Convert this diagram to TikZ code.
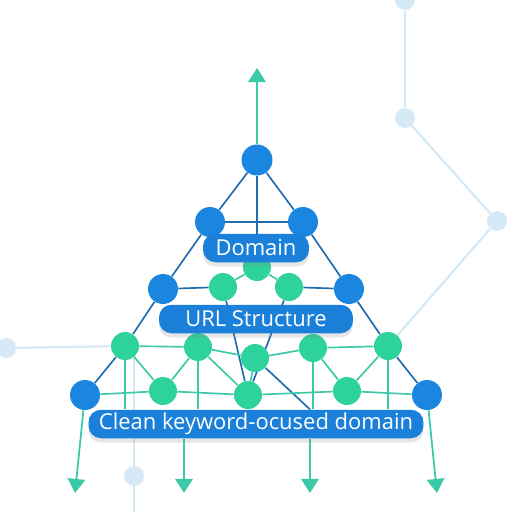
\documentclass[tikz,border=0pt]{standalone}
\usepackage{fontspec}
\setsansfont{Open Sans}
\usepackage{tikz}
\usetikzlibrary{arrows.meta, calc, backgrounds, shadows}
\definecolor{nodeblue}{HTML}{1A86E0}
\definecolor{nodegreen}{HTML}{2DD29C}
\definecolor{edgeblue}{HTML}{1F6CB0}
\definecolor{edgegreen}{HTML}{3CC9A8}
\definecolor{faint}{HTML}{D6E9F7}
\definecolor{labelblue}{HTML}{1A80D9}
\tikzset{
  hub/.style={
    circle, inner sep=0pt, minimum size=#1, fill=nodeblue
  },
  hub/.default=0.6cm,
  leaf/.style={
    circle, inner sep=0pt, minimum size=0.56cm, fill=nodegreen
  },
  ghost/.style={
    circle, inner sep=0pt, minimum size=0.4cm, fill=faint
  },
  tag/.style={
    rectangle, rounded corners=0.25cm, minimum width=#1, minimum height=0.57cm,
    inner sep=0pt, fill=labelblue, text=white, font=\sffamily\fontsize{12.5}{14}\selectfont,
    drop shadow={shadow xshift=0pt, shadow yshift=-2.5pt, opacity=0.2}
  },
  darkline/.style={edgeblue, line width=0.95pt},
  greenline/.style={edgegreen, line width=0.95pt},
  faintline/.style={faint, line width=1.3pt},
  arr/.style={-{Triangle[width=10pt,length=8pt]}, edgegreen, line width=1pt}
}

\begin{document}
\begin{tikzpicture}[x=0.02cm, y=-0.02cm]
  \useasboundingbox (0,0) rectangle (512,512);

  % Faint background network
  \node[ghost] (f1) at (405,0) {};
  \node[ghost] (f2) at (405,118) {};
  \node[ghost] (f3) at (497,221) {};
  \node[ghost] (f4) at (6,348) {};
  \node[ghost] (f5) at (134,476) {};
  \coordinate (f6) at (134,350);
  \coordinate (f7) at (134,512);

  % Top of the pyramid
  \node[hub=0.62cm] (t) at (257,160) {};
  \node[hub] (l2a) at (210,222) {};
  \node[hub] (l2b) at (303,222) {};
  \node[leaf] (gd) at (257,267) {};

  % Third row
  \node[hub] (b3a) at (163,289) {};
  \node[leaf] (g3a) at (223,287) {};
  \node[leaf] (g3b) at (289,287) {};
  \node[hub] (b3b) at (349,289) {};

  % Fourth row
  \node[leaf] (g4a) at (125,346) {};
  \node[leaf] (g4b) at (198,347) {};
  \node[leaf] (g4c) at (255,358) {};
  \node[leaf] (g4d) at (313,348) {};
  \node[leaf] (g4e) at (388,346) {};

  % Bottom row
  \node[hub] (b5a) at (85,395) {};
  \node[leaf] (g5a) at (163,391) {};
  \node[leaf] (g5b) at (248,395) {};
  \node[leaf] (g5c) at (347,391) {};
  \node[hub] (b5b) at (427,395) {};

  % Labels
  \node[tag=2.12cm] (domain) at (256,248) {Domain};
  \node[tag=3.88cm] (url) at (256,319) {URL Structure};
  \node[tag=6.7cm] (clean) at (256,424) {Clean keyword-ocused domain};

  % Arrow tips
  \coordinate (up) at (257,68);
  \coordinate (d1) at (75,493);
  \coordinate (d2) at (184,493);
  \coordinate (d3) at (310,493);
  \coordinate (d4) at (437,493);

  \begin{scope}[on background layer]
    \draw[faintline] (f1) -- (f2) -- (f3) -- (g4e);
    \draw[faintline] (f4) -- (g4a);
    \draw[faintline] (f6) -- (f5) -- (f7);

    \draw[darkline] (t) -- (l2a);
    \draw[darkline] (t) -- (l2b);
    \draw[darkline] (t) -- (gd);
    \draw[darkline] (l2a) -- (l2b);
    \draw[darkline] (l2a) -- (b3a);
    \draw[darkline] (l2b) -- (b3b);
    \draw[darkline] (b3a) -- (g3a);
    \draw[darkline] (g3b) -- (b3b);
    \draw[darkline] (b3a) -- (g4a);
    \draw[darkline] (b3b) -- (g4e);
    \draw[darkline] (g4a) -- (b5a);
    \draw[darkline] (g4e) -- (b5b);
    \draw[darkline] (g3a) -- (g5b);
    \draw[darkline] (g3b) -- (g5b);
    \draw[darkline] (g4c) -- (clean.north -| d3);

    \draw[greenline] (gd) -- (g3a);
    \draw[greenline] (gd) -- (g3b);
    \draw[greenline] (g4a) -- (g4b) -- (g4c) -- (g4d) -- (g4e);
    \draw[greenline] (b5a) -- (g5a) -- (g5b) -- (g5c) -- (b5b);
    \draw[greenline] (g4a) -- (g5a) -- (g4b);
    \draw[greenline] (g4b) -- (g5b);
    \draw[greenline] (g4c) -- (g5b);
    \draw[greenline] (g4d) -- (g5c) -- (g4e);
    \draw[greenline] (g4a) -- (clean.north -| g4a);
    \draw[greenline] (g4b) -- (clean.north -| g4b);
    \draw[greenline] (g4d) -- (clean.north -| g4d);
    \draw[greenline] (g4e) -- (clean.north -| g4e);

    \draw[arr] (t) -- (up);
    \draw[arr] (b5a) -- (d1);
    \draw[arr] (clean.south -| d2) -- (d2);
    \draw[arr] (clean.south -| d3) -- (d3);
    \draw[arr] (b5b) -- (d4);
  \end{scope}

\end{tikzpicture}
\end{document}
